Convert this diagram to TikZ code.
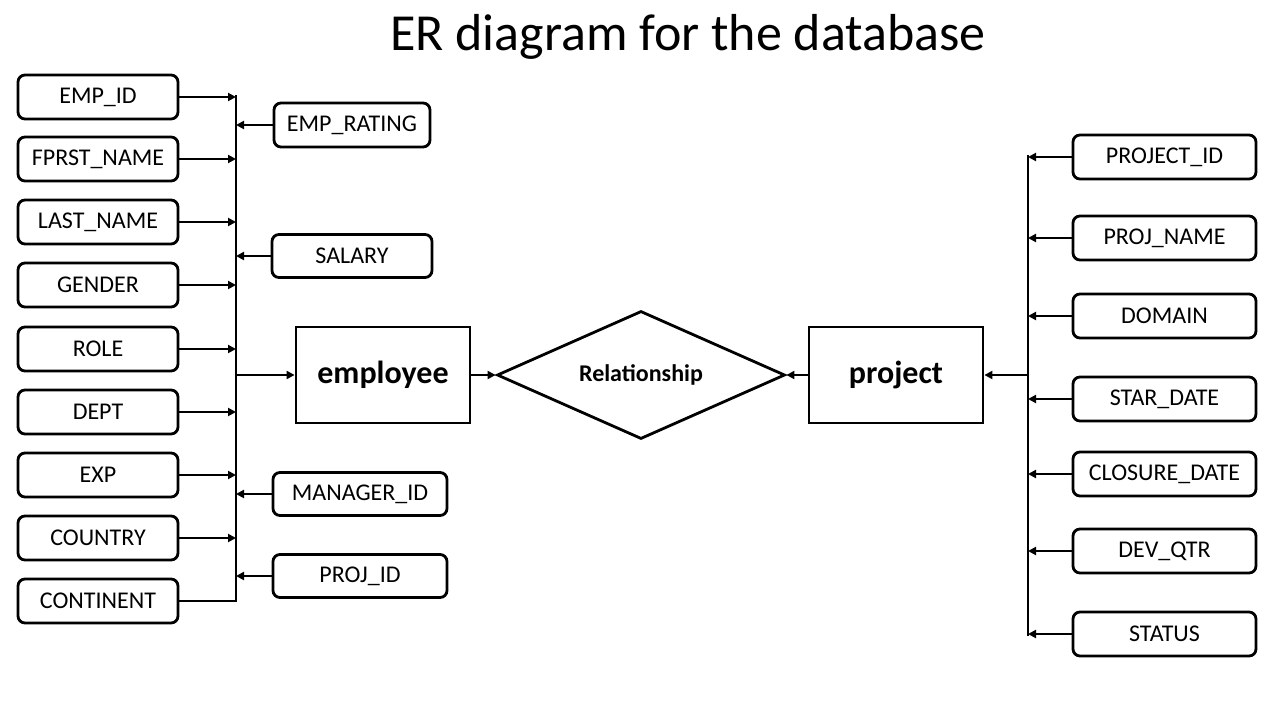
\documentclass[tikz,border=0pt]{standalone}
\usepackage{fontspec}
\setmainfont{Carlito}
\usetikzlibrary{arrows.meta,shapes.geometric}
\begin{document}
\begin{tikzpicture}[x=1pt,y=-1pt,
  attr/.style={draw,line width=2.8pt,rounded corners=7pt,minimum height=44pt,inner sep=0pt,font=\fontsize{24}{28}\selectfont},
  entity/.style={draw,line width=2.8pt,minimum width=174pt,minimum height=96pt,inner sep=0pt,font=\fontsize{32}{38}\selectfont\bfseries},
  arr/.style={line width=2.8pt,-{Triangle[length=8pt,width=8pt]}},
  bus/.style={line width=2.8pt},
  lw/.style={minimum width=160pt}]
\useasboundingbox (0,0) rectangle (1280,720);
\node (title) at (688,37) {\fontsize{52}{62}\selectfont ER diagram for the database};
% left attributes
\node[attr,lw] (empid) at (98,97) {EMP\_ID};
\node[attr,lw] (fname) at (98,159) {FPRST\_NAME};
\node[attr,lw] (lname) at (98,222) {LAST\_NAME};
\node[attr,lw] (gender) at (98,285) {GENDER};
\node[attr,lw] (role) at (98,349) {ROLE};
\node[attr,lw] (dept) at (98,412) {DEPT};
\node[attr,lw] (exp) at (98,475) {EXP};
\node[attr,lw] (country) at (98,538) {COUNTRY};
\node[attr,lw] (continent) at (98,601) {CONTINENT};
\node[attr,minimum width=156pt] (rating) at (352,125) {EMP\_RATING};
\node[attr,minimum width=160pt,minimum height=43pt] (salary) at (352,256) {SALARY};
\node[attr,minimum width=174pt,minimum height=43pt] (manager) at (360,494) {MANAGER\_ID};
\node[attr,minimum width=174pt,minimum height=43pt] (projid) at (360,576) {PROJ\_ID};
% entities
\node[entity] (emp) at (383,375) {employee};
\node[diamond,draw,line width=2.8pt,aspect=2.25,minimum width=288pt,minimum height=128pt,inner sep=0pt,font=\fontsize{24}{28}\selectfont\bfseries] (rel) at (641,375) {Relationship};
\node[entity] (proj) at (896,375) {project};
% right attributes
\node[attr,minimum width=183pt] (pid) at (1164.5,157) {PROJECT\_ID};
\node[attr,minimum width=183pt] (pname) at (1164.5,238) {PROJ\_NAME};
\node[attr,minimum width=183pt] (domain) at (1164.5,316) {DOMAIN};
\node[attr,minimum width=183pt] (sdate) at (1164.5,399) {STAR\_DATE};
\node[attr,minimum width=183pt] (cdate) at (1164.5,474) {CLOSURE\_DATE};
\node[attr,minimum width=183pt] (devqtr) at (1164.5,551) {DEV\_QTR};
\node[attr,minimum width=183pt] (status) at (1164.5,634) {STATUS};
% buses
\coordinate (lbt) at (236,95);
\coordinate (lbb) at (236,601);
\coordinate (rbt) at (1028,155);
\coordinate (rbb) at (1028,636);
\draw[bus,line join=miter] (continent.east) -- (lbb) -- (lbt);
\draw[bus] (rbt) -- (rbb);
% left arrows into bus
\foreach \n in {empid,fname,lname,gender,role,dept,exp,country}
  \draw[arr] (\n.east) -- (\n.east -| lbt);
\foreach \n in {rating,salary,manager,projid}
  \draw[arr] (\n.west) -- (\n.west -| lbt);
\foreach \n in {pid,pname,domain,sdate,cdate,devqtr,status}
  \draw[arr] (\n.west) -- (\n.west -| rbt);
% entity links
\draw[arr] (emp.west -| lbt) -- (emp.west);
\draw[arr] (emp.east) -- (rel.west);
\draw[arr] (proj.west) -- (rel.east);
\draw[arr] (proj.east -| rbt) -- (proj.east);
\end{tikzpicture}
\end{document}
